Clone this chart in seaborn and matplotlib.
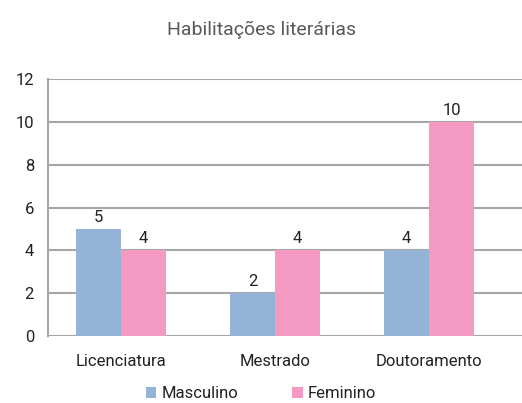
import matplotlib
matplotlib.use("Agg")
import matplotlib.pyplot as plt
import seaborn as sns
import pandas as pd
from matplotlib.patches import Patch

categories = ["Licenciatura", "Mestrado", "Doutoramento"]
series_names = ["Masculino", "Feminino"]
masculino = [5, 2, 4]
feminino = [4, 4, 10]
yticks = [0, 2, 4, 6, 8, 10, 12]
title = "Habilitações literárias"

colors = ["#95b3d7", "#f49ac2"]

df = pd.DataFrame({
    "cat": categories * 2,
    "serie": [series_names[0]] * 3 + [series_names[1]] * 3,
    "val": masculino + feminino,
})

sns.set_theme(style="white")
plt.rcParams["font.family"] = ["Roboto", "DejaVu Sans"]

fig = plt.figure(figsize=(5.22, 4.03), dpi=100)
ax = fig.add_axes([48/522, (403-336)/403, 1 - 48/522, (336-79)/403])

sns.barplot(data=df, x="cat", y="val", hue="serie", palette=colors, width=0.585,
            saturation=1, ax=ax, legend=False, order=categories, hue_order=series_names,
            linewidth=0, edgecolor="none")

ax.set_ylim(0, 12)
ax.set_yticks(yticks)
ax.set_xlim(-0.474, 2.604)
ax.yaxis.grid(True, color="#a6a6a6", linewidth=1.5)
ax.set_axisbelow(True)
for s in ["top", "right", "bottom"]:
    ax.spines[s].set_visible(False)
ax.spines["left"].set_color("#a6a6a6")
ax.spines["left"].set_linewidth(1.5)
ax.set_xlabel("")
ax.set_ylabel("")
ax.tick_params(axis="y", length=0, pad=10, labelsize=12, labelcolor="#222222")
ax.tick_params(axis="x", length=0, pad=13, labelsize=12, labelcolor="#222222")

for cont in ax.containers:
    ax.bar_label(cont, padding=3, fontsize=12, color="#222222")

fig.text(0.502, 1 - 30/403, title, ha="center", va="center", fontsize=14, color="#595959")

handles = [Patch(facecolor=c, edgecolor="none") for c in colors]
fig.legend(handles, series_names, loc="center", bbox_to_anchor=(0.5, 1 - 394/403),
           ncol=2, frameon=False, fontsize=12, handlelength=0.65, handleheight=0.65,
           handletextpad=0.3, columnspacing=3.25, labelcolor="#222222")

fig.savefig("out.png", dpi=100)
